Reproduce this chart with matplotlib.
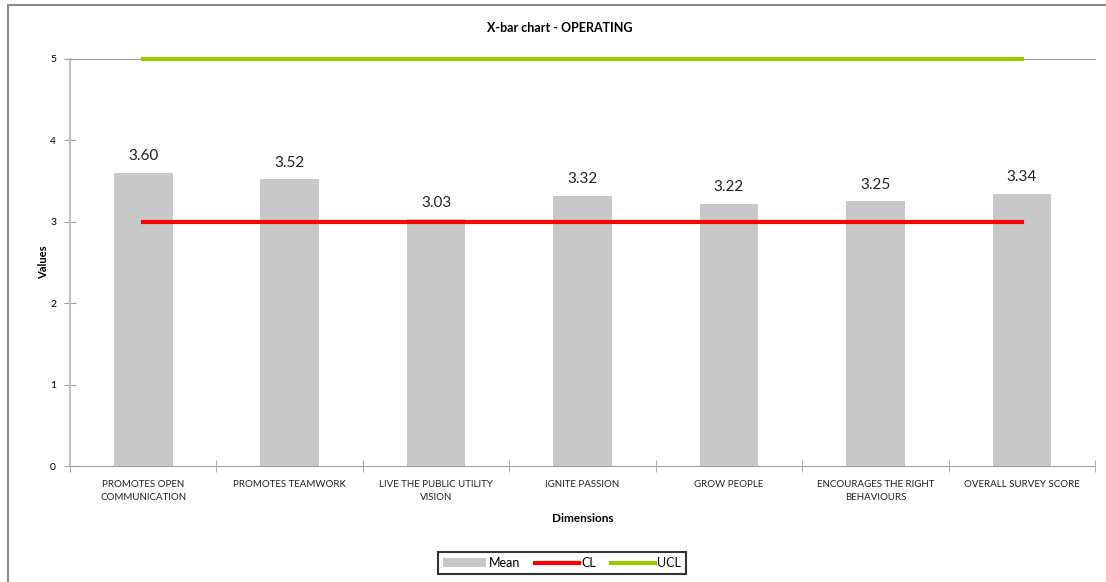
import matplotlib
matplotlib.use("Agg")
import matplotlib.pyplot as plt
from matplotlib.patches import Rectangle
import numpy as np

categories = ["PROMOTES OPEN\nCOMMUNICATION", "PROMOTES TEAMWORK", "LIVE THE PUBLIC UTILITY\nVISION",
              "IGNITE PASSION", "GROW PEOPLE", "ENCOURAGES THE RIGHT\nBEHAVIOURS", "OVERALL SURVEY SCORE"]
means = [3.60, 3.52, 3.03, 3.32, 3.22, 3.25, 3.34]
cl = [3, 3, 3, 3, 3, 3, 3]
ucl = [5, 5, 5, 5, 5, 5, 5]

plt.rcParams['font.family'] = ['Lato', 'DejaVu Sans']

W, H = 1106, 582
fig = plt.figure(figsize=(W / 100, H / 100), dpi=100)
ax = fig.add_axes([70 / W, 1 - 466 / H, (1095 - 70) / W, (466 - 59) / H])

# outer chart frame (only left and top edges fall inside the image)
fig.patches.append(Rectangle((8 / W, -0.1), 1.2, 1 - 5 / H + 0.1, transform=fig.transFigure,
                             fill=False, edgecolor='#8c8c8c', linewidth=1.5))

x = np.arange(len(categories))
h_mean = ax.bar(x, means, width=0.4, color='#c8c8c8', label='Mean', zorder=2)
h_cl, = ax.plot(x, cl, color='#ff0000', linewidth=3, label='CL', zorder=3)
h_ucl, = ax.plot(x, ucl, color='#99cc00', linewidth=3, label='UCL', zorder=4, clip_on=False)

for xi, v in zip(x, means):
    ax.annotate(f"{v:.2f}", (xi, v), xytext=(0, 7), textcoords='offset points',
                ha='center', va='bottom', fontsize=11, color='#222222')

ax.set_xlim(-0.5, len(categories) - 0.5)
ax.set_ylim(0, 5)
ax.set_yticks([0, 1, 2, 3, 4, 5])
ax.set_xticks(x)
ax.set_xticklabels(categories, fontsize=7, color='#222222', linespacing=1.6)
ax.set_xticks(np.arange(len(categories) + 1) - 0.5, minor=True)
ax.tick_params(axis='x', which='major', length=0, pad=10)
ax.tick_params(axis='x', which='minor', length=8, direction='inout', color='#a0a0a0')
ax.tick_params(axis='y', length=8, direction='inout', color='#a0a0a0', labelsize=7.5, pad=6)

for side in ['left', 'bottom', 'top']:
    ax.spines[side].set_color('#a0a0a0')
ax.spines['left'].set_color('#c0c0c0')
ax.spines['left'].set_linewidth(1.5)
ax.spines['right'].set_visible(False)

ax.set_ylabel("Values", fontsize=8, fontweight='bold', labelpad=1)
ax.set_xlabel("Dimensions", fontsize=8.5, fontweight='bold', labelpad=8)
fig.text(560 / W, 1 - 28 / H, "X-bar chart - OPERATING", ha='center', va='center',
         fontsize=9, fontweight='bold')

leg = fig.legend([h_mean, h_cl, h_ucl], ['Mean', 'CL', 'UCL'], loc='center',
                 bbox_to_anchor=(562 / W, 1 - 563 / H), ncol=3, frameon=True,
                 fancybox=False, edgecolor='black', fontsize=9, handlelength=3.5,
                 handletextpad=0.2, columnspacing=1.2, borderpad=0.4)
leg.get_frame().set_linewidth(1.5)

fig.savefig("out.png", dpi=100)
